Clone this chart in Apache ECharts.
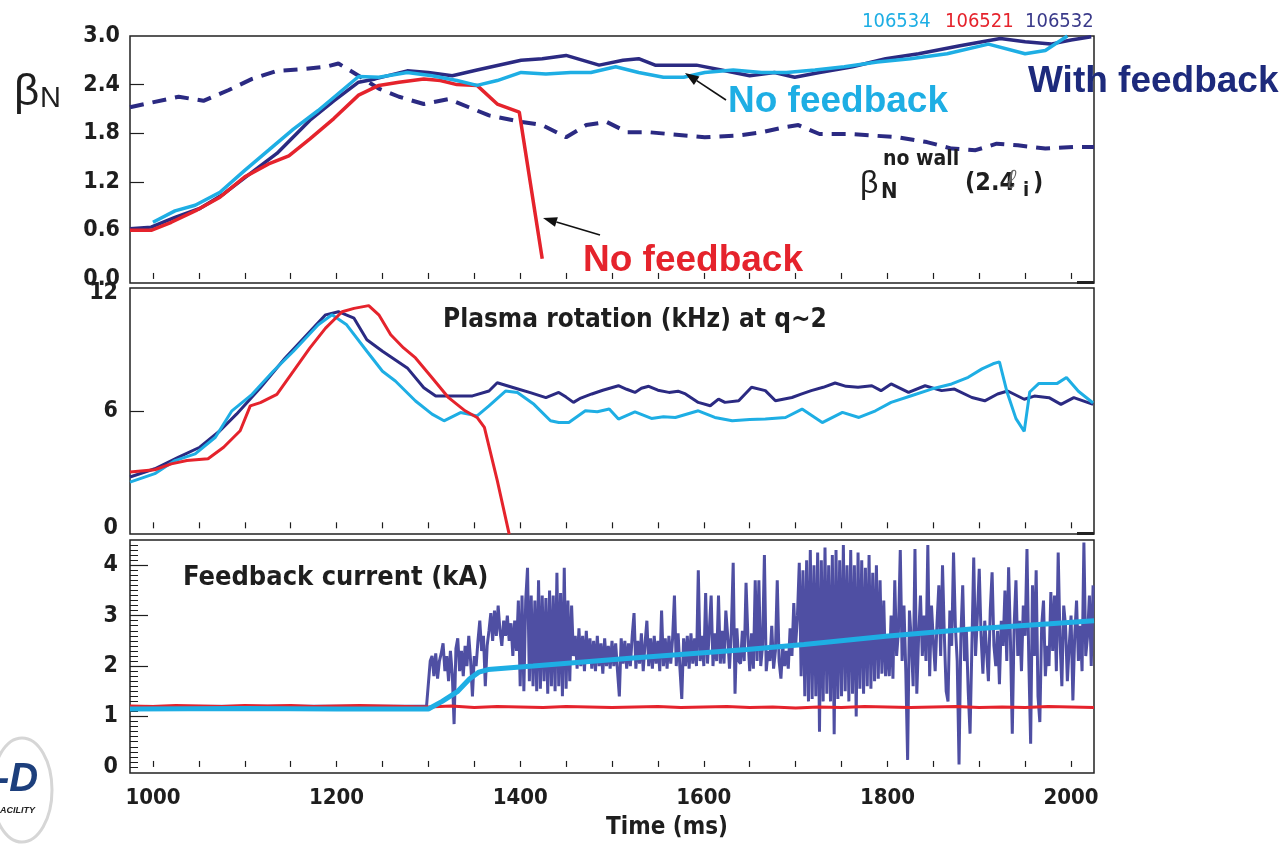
<!DOCTYPE html>
<html>
<head>
<meta charset="utf-8">
<script src="https://cdn.jsdelivr.net/npm/echarts@6.0.0/dist/echarts.min.js"></script>
<style>
  html, body { margin: 0; padding: 0; background: #fff; }
  #main { width: 1286px; height: 845px; }
</style>
</head>
<body>
<div id="main"></div>
<script>
// ---- data ----
// x axis (time, ms)
var timeLabels = [1000, 1200, 1400, 1600, 1800, 2000];
var timeTicks = [1000, 1050, 1100, 1150, 1200, 1250, 1300, 1350, 1400, 1450, 1500,
  1550, 1600, 1650, 1700, 1750, 1800, 1850, 1900, 1950, 2000];

// panel 1: beta_N
var bnNavyT = [975, 998, 1024, 1051, 1077, 1108, 1135, 1171, 1197, 1224, 1242, 1277, 1300, 1326, 1353, 1401, 1424, 1450, 1486, 1512,
  1529, 1547, 1592, 1619, 1650, 1677, 1699, 1726, 1762, 1798, 1834, 1879, 1923, 1950, 1978, 2000, 2022];
var bnNavyV = [0.62, 0.64, 0.76, 0.87, 1.05, 1.32, 1.55, 1.96, 2.20, 2.43, 2.47, 2.57, 2.55, 2.51, 2.58, 2.70, 2.72, 2.76, 2.64, 2.70,
  2.72, 2.64, 2.64, 2.58, 2.51, 2.55, 2.49, 2.55, 2.62, 2.72, 2.78, 2.88, 2.97, 2.93, 2.90, 2.95, 2.99];
var bnRedT = [975, 998, 1020, 1046, 1073, 1100, 1126, 1148, 1171, 1197, 1224, 1246, 1268, 1295, 1313, 1331, 1353, 1375, 1399, 1424];
var bnRedV = [0.60, 0.60, 0.70, 0.84, 1.01, 1.26, 1.42, 1.52, 1.73, 1.98, 2.27, 2.39, 2.43, 2.47, 2.45, 2.40, 2.39, 2.16, 2.06, 0.25];
var bnCyanT = [1000, 1024, 1046, 1073, 1100, 1126, 1153, 1180, 1224, 1246, 1277, 1304, 1331, 1353, 1375, 1401, 1428, 1455, 1477, 1504,
  1529, 1556, 1578, 1601, 1632, 1663, 1690, 1721, 1753, 1789, 1825, 1865, 1910, 1950, 1972, 1996];
var bnCyanV = [0.70, 0.84, 0.91, 1.07, 1.34, 1.59, 1.85, 2.08, 2.50, 2.49, 2.55, 2.51, 2.45, 2.39, 2.45, 2.55, 2.53, 2.55, 2.55, 2.62,
  2.55, 2.49, 2.49, 2.55, 2.58, 2.55, 2.55, 2.58, 2.62, 2.68, 2.72, 2.78, 2.90, 2.78, 2.82, 3.00];
var noWallT = [975, 1028, 1055, 1082, 1108, 1135, 1162, 1188, 1202, 1224, 1246, 1268, 1295, 1322, 1344, 1366, 1401, 1424, 1450, 1472,
  1494, 1517, 1542, 1601, 1637, 1663, 1686, 1703, 1726, 1758, 1785, 1811, 1843, 1870, 1896, 1919, 1942, 1972, 2004, 2025];
var noWallV = [2.12, 2.25, 2.20, 2.33, 2.47, 2.57, 2.59, 2.62, 2.66, 2.51, 2.35, 2.25, 2.16, 2.22, 2.12, 2.02, 1.94, 1.90, 1.75, 1.90,
  1.94, 1.81, 1.81, 1.75, 1.77, 1.81, 1.87, 1.90, 1.79, 1.79, 1.77, 1.75, 1.69, 1.61, 1.59, 1.67, 1.65, 1.61, 1.63, 1.63];

// panel 2: plasma rotation (kHz)
var rotRedT = [975, 1002, 1020, 1037, 1060, 1077, 1095, 1106, 1117, 1135, 1153, 1171, 1188, 1206, 1219, 1235, 1246, 1259, 1273, 1286,
  1304, 1322, 1340, 1353, 1361, 1375, 1388];
var rotRedV = [2.87, 2.99, 3.29, 3.46, 3.55, 4.14, 4.98, 6.25, 6.42, 6.84, 8.02, 9.21, 10.22, 11.06, 11.23, 11.37, 10.90, 9.88, 9.21, 8.70,
  7.69, 6.67, 6.00, 5.66, 5.15, 2.45, -0.30];
var rotNavyT = [975, 1002, 1028, 1051, 1073, 1091, 1117, 1144, 1171, 1188, 1202, 1219, 1233, 1250, 1277, 1295, 1308, 1326, 1348, 1366,
  1375, 1393, 1411, 1428, 1442, 1450, 1458, 1466, 1478, 1490, 1507, 1516, 1525, 1532, 1540, 1550, 1562, 1572, 1580, 1594,
  1607, 1616, 1623, 1638, 1652, 1667, 1678, 1696, 1706, 1717, 1730, 1743, 1755, 1768, 1783, 1793, 1804, 1823, 1841, 1859,
  1873, 1892, 1906, 1920, 1931, 1949, 1960, 1976, 1989, 2003, 2024];
var rotNavyV = [2.62, 3.04, 3.63, 4.14, 4.98, 5.83, 7.18, 8.70, 10.05, 10.90, 11.06, 10.73, 9.63, 9.04, 8.19, 7.18, 6.76, 6.76, 6.76, 7.01,
  7.43, 7.18, 6.93, 6.67, 6.94, 6.70, 6.43, 6.65, 6.86, 7.05, 7.28, 7.10, 6.94, 7.15, 7.25, 7.05, 6.94, 7.00, 6.86, 6.43,
  6.26, 6.60, 6.43, 6.51, 7.20, 7.03, 6.51, 6.68, 6.85, 7.03, 7.20, 7.42, 7.25, 7.20, 7.28, 7.03, 7.37, 6.94, 7.28, 7.03,
  7.11, 6.68, 6.51, 6.86, 7.01, 6.59, 6.75, 6.67, 6.33, 6.67, 6.33];
var rotCyanT = [975, 1002, 1024, 1046, 1068, 1086, 1108, 1131, 1153, 1180, 1195, 1211, 1233, 1250, 1264, 1286, 1304, 1317, 1335, 1353,
  1366, 1384, 1397, 1415, 1433, 1442, 1453, 1471, 1484, 1497, 1507, 1525, 1543, 1556, 1569, 1594, 1612, 1631, 1650, 1667,
  1689, 1707, 1729, 1751, 1769, 1787, 1804, 1826, 1848, 1870, 1888, 1903, 1915, 1922, 1930, 1940, 1949, 1955, 1965, 1985,
  1995, 2008, 2024];
var rotCyanV = [2.36, 2.79, 3.46, 3.80, 4.65, 6.00, 6.84, 8.02, 9.04, 10.39, 10.90, 10.39, 9.04, 8.02, 7.52, 6.50, 5.83, 5.49, 5.91, 5.74,
  6.25, 7.01, 6.93, 6.33, 5.49, 5.40, 5.40, 6.00, 5.95, 6.09, 5.58, 5.95, 5.61, 5.70, 5.66, 6.00, 5.66, 5.49, 5.55, 5.58,
  5.66, 6.09, 5.40, 5.92, 5.66, 6.00, 6.43, 6.77, 7.11, 7.37, 7.71, 8.14, 8.40, 8.50, 7.00, 5.60, 4.95, 6.96, 7.40, 7.40,
  7.70, 7.00, 6.40];

// panel 3: feedback current (kA)
var curCyanT = [975, 1100, 1200, 1300, 1315, 1332, 1345, 1355, 1365, 1414, 1523, 1647, 1709, 1798, 1888, 1977, 2025];
var curCyanV = [1.15, 1.16, 1.15, 1.15, 1.30, 1.50, 1.75, 1.88, 1.93, 2.00, 2.16, 2.33, 2.43, 2.59, 2.73, 2.84, 2.90];
var curRedStart = 975, curRedStep = 25;
var curRedV = [1.21, 1.20, 1.22, 1.21, 1.20, 1.22, 1.21, 1.22, 1.20, 1.21, 1.22, 1.21, 1.20, 1.19, 1.21, 1.18, 1.20, 1.19, 1.18, 1.20,
  1.19, 1.18, 1.19, 1.20, 1.18, 1.19, 1.20, 1.18, 1.19, 1.17, 1.19, 1.18, 1.20, 1.19, 1.18, 1.19, 1.20, 1.18, 1.19, 1.18,
  1.20, 1.19, 1.18];
var curNavyBaseT = [975, 1298];
var curNavyBaseV = [1.20, 1.21];
var curNavyStart = 1300, curNavyStep = 2;
var curNavyV = [
  1.22, 2.10, 2.20, 1.80, 2.25, 1.75, 2.10, 2.25, 2.45, 1.90,
  2.20, 1.70, 2.30, 1.85, 0.85, 2.35, 2.55, 1.90, 2.30, 1.80,
  2.40, 2.00, 2.60, 2.10, 1.40, 2.20, 2.00, 2.50, 2.90, 2.30,
  2.60, 1.60, 2.40, 2.70, 3.05, 2.50, 3.10, 2.60, 3.20, 2.70,
  2.40, 2.90, 2.60, 3.00, 2.50, 2.85, 2.20, 2.90, 2.30, 3.30,
  1.60, 3.40, 1.50, 3.30, 3.95, 1.70, 3.40, 1.60, 3.30, 1.50,
  3.70, 1.55, 3.40, 1.70, 3.35, 1.45, 3.50, 1.60, 3.40, 1.50,
  3.85, 1.60, 3.45, 1.40, 3.95, 1.55, 3.30, 1.70, 3.20, 2.20,
  2.60, 1.95, 2.75, 2.00, 2.60, 1.90, 2.70, 2.05, 2.55, 1.95,
  2.50, 1.90, 2.60, 2.00, 2.45, 1.85, 2.55, 2.00, 2.40, 1.95,
  2.50, 2.00, 2.45, 1.90, 1.40, 2.55, 2.05, 2.50, 1.95, 2.45,
  2.00, 2.60, 3.05, 1.95, 2.50, 2.05, 2.65, 1.90, 2.45, 2.90,
  2.00, 2.55, 1.95, 2.60, 2.05, 2.50, 1.90, 3.10, 2.00, 2.55,
  1.95, 2.60, 2.05, 2.55, 3.40, 2.00, 2.65, 1.95, 1.35, 2.55,
  2.00, 2.60, 1.95, 2.65, 2.05, 2.55, 2.00, 3.90, 2.10, 2.60,
  2.00, 3.45, 2.05, 2.70, 3.40, 2.00, 2.65, 2.10, 3.40, 2.05,
  2.70, 2.05, 3.10, 2.60, 1.95, 2.70, 4.05, 1.45, 2.75, 2.10,
  2.05, 2.70, 2.10, 3.65, 2.60, 1.90, 2.65, 1.95, 3.70, 2.10,
  3.70, 2.00, 2.40, 4.20, 1.90, 2.30, 2.10, 2.80, 1.95, 2.30,
  3.70, 2.10, 1.75, 2.40, 2.00, 2.30, 1.95, 2.75, 2.20, 3.25,
  2.40, 3.00, 4.05, 1.80, 3.90, 1.40, 4.10, 1.30, 4.30, 1.35,
  4.00, 1.40, 4.25, 0.70, 4.10, 1.30, 4.35, 1.45, 4.00, 1.30,
  4.20, 0.65, 4.30, 1.35, 4.10, 1.40, 4.40, 1.50, 4.00, 1.30,
  4.30, 1.45, 4.00, 1.00, 4.25, 1.55, 4.10, 1.45, 3.95, 1.60,
  4.20, 1.55, 3.85, 1.70, 4.00, 1.75, 3.70, 1.85, 3.30, 1.80,
  2.60, 1.80, 3.00, 1.75, 3.70, 2.20, 2.70, 4.30, 2.10, 3.20,
  1.90, 0.14, 3.10, 2.50, 1.60, 4.32, 1.45, 2.60, 3.40, 2.20,
  3.00, 2.10, 4.40, 1.80, 3.20, 2.50, 1.90, 2.85, 3.60, 2.20,
  4.00, 2.60, 1.50, 1.30, 3.10, 2.40, 4.25, 2.80, 2.10, 0.05,
  2.60, 3.60, 2.10, 2.70, 1.50, 0.66, 2.40, 4.15, 2.20, 3.00,
  3.93, 2.60, 1.85, 2.90, 2.30, 1.70, 3.10, 3.86, 2.40, 2.00,
  2.70, 1.64, 2.90, 2.40, 3.50, 2.10, 3.96, 2.50, 0.66, 2.80,
  3.70, 2.20, 2.90, 1.90, 3.20, 2.60, 4.32, 2.10, 0.46, 3.60,
  2.20, 3.90, 1.40, 0.89, 2.80, 3.30, 1.80, 2.40, 2.00, 3.47,
  2.30, 3.40, 1.90, 4.25, 2.50, 1.60, 3.20, 2.80, 1.70, 2.40,
  3.00, 1.32, 2.60, 3.30, 2.10, 2.80, 1.90, 4.45, 2.20, 2.60,
  3.40, 2.00, 3.60
];

// ---- build series data ----
function pairs(ts, vs) {
  return ts.map(function (t, i) { return [t, vs[i]]; });
}
function stepped(start, step, vs) {
  return vs.map(function (v, i) { return [start + i * step, v]; });
}

var cyan = '#1eaee4';
var red = '#e5232c';
var navy = '#2b2a82';
var navy2 = '#4f4fa3';
var ink = '#1e1e1e';
var cond = "'DejaVu Sans Condensed', 'Liberation Sans', sans-serif";
var wide = "'Liberation Sans', Arial, sans-serif";

var gridL = 130, gridR = 192;

function xAx(i, showLabel) {
  return {
    type: 'value', gridIndex: i, min: 975, max: 2025,
    axisLine: { show: false },
    splitLine: { show: false },
    axisTick: { inside: true, length: 6, customValues: timeTicks, lineStyle: { color: ink, width: 1.2 } },
    axisLabel: {
      show: showLabel, customValues: timeLabels, margin: 14,
      formatter: function (v) { return String(v); },
      fontFamily: cond, fontWeight: 'bold', fontSize: 22, color: ink
    }
  };
}

var curMinorTicks = [];
for (var k = 0; k <= 44; k++) curMinorTicks.push(k / 10);

var option = {
  backgroundColor: '#fff',
  animation: false,
  textStyle: { fontFamily: cond },
  grid: [
    { left: gridL, right: gridR, top: 36, height: 247, show: true, borderColor: '#222', borderWidth: 1.5, outerBoundsMode: 'none' },
    { left: gridL, right: gridR, top: 288, height: 246, show: true, borderColor: '#222', borderWidth: 1.5, outerBoundsMode: 'none' },
    { left: gridL, right: gridR, top: 540, height: 233, show: true, borderColor: '#222', borderWidth: 1.5, outerBoundsMode: 'none' }
  ],
  xAxis: [xAx(0, false), xAx(1, false), xAx(2, true)],
  yAxis: [
    {
      type: 'value', gridIndex: 0, min: -0.05, max: 3.0,
      axisLine: { show: false }, splitLine: { show: false },
      axisTick: { inside: true, length: 14, customValues: [0.6, 1.2, 1.8, 2.4], lineStyle: { color: ink, width: 1.2 } },
      axisLabel: {
        customValues: [0, 0.6, 1.2, 1.8, 2.4, 3.0], margin: 10,
        formatter: function (v) { return v.toFixed(1); },
        fontFamily: cond, fontWeight: 'bold', fontSize: 23, color: ink
      }
    },
    {
      type: 'value', gridIndex: 1, min: -0.29, max: 12.27,
      axisLine: { show: false }, splitLine: { show: false },
      axisTick: { inside: true, length: 14, customValues: [6], lineStyle: { color: ink, width: 1.2 } },
      axisLabel: {
        customValues: [0, 6, 12], margin: 12,
        fontFamily: cond, fontWeight: 'bold', fontSize: 23, color: ink
      }
    },
    {
      type: 'value', gridIndex: 2, min: -0.12, max: 4.5,
      axisLine: { show: false }, splitLine: { show: false },
      axisTick: { inside: true, length: 8, customValues: curMinorTicks, lineStyle: { color: ink, width: 1 } },
      axisLabel: {
        customValues: [0, 1, 2, 3, 4], margin: 12,
        fontFamily: cond, fontWeight: 'bold', fontSize: 23, color: ink
      }
    },
    {
      type: 'value', gridIndex: 2, position: 'left', min: -0.12, max: 4.5,
      axisLine: { show: false }, splitLine: { show: false },
      axisTick: { inside: true, length: 18, customValues: [1, 2, 3, 4], lineStyle: { color: ink, width: 1.2 } },
      axisLabel: { show: false }
    }
  ],
  series: [
    // beta_N
    { type: 'line', xAxisIndex: 0, yAxisIndex: 0, data: pairs(noWallT, noWallV), showSymbol: false,
      lineStyle: { color: navy, width: 4, type: [14, 9] } },
    { type: 'line', xAxisIndex: 0, yAxisIndex: 0, data: pairs(bnNavyT, bnNavyV), showSymbol: false,
      lineStyle: { color: navy, width: 3.5 } },
    { type: 'line', xAxisIndex: 0, yAxisIndex: 0, data: pairs(bnRedT, bnRedV), showSymbol: false,
      lineStyle: { color: red, width: 3.5 } },
    { type: 'line', xAxisIndex: 0, yAxisIndex: 0, data: pairs(bnCyanT, bnCyanV), showSymbol: false,
      lineStyle: { color: cyan, width: 3.5 } },
    // rotation
    { type: 'line', xAxisIndex: 1, yAxisIndex: 1, data: pairs(rotNavyT, rotNavyV), showSymbol: false,
      lineStyle: { color: navy, width: 3 } },
    { type: 'line', xAxisIndex: 1, yAxisIndex: 1, data: pairs(rotCyanT, rotCyanV), showSymbol: false,
      lineStyle: { color: cyan, width: 3 } },
    { type: 'line', xAxisIndex: 1, yAxisIndex: 1, data: pairs(rotRedT, rotRedV), showSymbol: false,
      lineStyle: { color: red, width: 3 } },
    // feedback current
    { type: 'line', xAxisIndex: 2, yAxisIndex: 2, showSymbol: false,
      data: pairs(curNavyBaseT, curNavyBaseV).concat(stepped(curNavyStart, curNavyStep, curNavyV)),
      lineStyle: { color: navy2, width: 3 } },
    { type: 'line', xAxisIndex: 2, yAxisIndex: 2, data: stepped(curRedStart, curRedStep, curRedV), showSymbol: false,
      lineStyle: { color: red, width: 3 } },
    { type: 'line', xAxisIndex: 2, yAxisIndex: 2, data: pairs(curCyanT, curCyanV), showSymbol: false,
      lineStyle: { color: cyan, width: 5 } }
  ]
};

// ---- annotations ----
function txt(x, y, s, font, color, align) {
  return {
    type: 'text', x: x, y: y, z: 100,
    style: { text: s, font: font, fill: color, align: align || 'left', verticalAlign: 'middle' }
  };
}
function arrow(x1, y1, x2, y2) {
  var dx = x2 - x1, dy = y2 - y1, len = Math.sqrt(dx * dx + dy * dy);
  var ux = dx / len, uy = dy / len, px = -uy, py = ux;
  var bx = x2 - ux * 14, by = y2 - uy * 14;
  return [
    { type: 'line', z: 100, shape: { x1: x1, y1: y1, x2: bx, y2: by }, style: { stroke: '#111', lineWidth: 1.6 } },
    { type: 'polygon', z: 100, shape: { points: [[x2, y2], [bx + px * 5, by + py * 5], [bx - px * 5, by - py * 5]] },
      style: { fill: '#111' } }
  ];
}

var g = [
  txt(862, 22, '106534', 'normal 20px ' + cond, cyan),
  txt(945, 22, '106521', 'normal 20px ' + cond, red),
  txt(1025, 22, '106532', 'normal 20px ' + cond, '#3a3a8a'),
  txt(1028, 82, 'With feedback', 'bold 37px ' + wide, '#1d2a7c'),
  txt(728, 102, 'No feedback', 'bold 37px ' + wide, cyan),
  txt(583, 261, 'No feedback', 'bold 37px ' + wide, red),
  txt(443, 320, 'Plasma rotation (kHz) at q~2', 'bold 26px ' + cond, ink),
  txt(183, 578, 'Feedback current (kA)', 'bold 27px ' + cond, ink),
  txt(667, 828, 'Time (ms)', 'bold 24px ' + cond, ink, 'center'),
  txt(14, 93, '\u03b2', 'normal 44px ' + wide, ink),
  txt(40, 99, 'N', 'normal 29px ' + wide, ink),
  txt(860, 184, '\u03b2', 'normal 32px ' + wide, ink),
  txt(881, 192, 'N', 'bold 22px ' + cond, ink),
  txt(883, 160, 'no wall', 'bold 21px ' + cond, ink),
  txt(965, 183, '(2.4', 'bold 25px ' + cond, ink),
  txt(1007, 181, '\u2113', 'italic 26px ' + wide, '#666'),
  txt(1023, 191, 'i', 'bold 20px ' + cond, ink),
  txt(1033, 183, ')', 'bold 25px ' + cond, ink),
  // little dark bars at the right end of the panel bottoms
  { type: 'rect', z: 100, shape: { x: 1077, y: 281, width: 17, height: 3 }, style: { fill: '#222' } },
  { type: 'rect', z: 100, shape: { x: 1077, y: 532, width: 17, height: 3 }, style: { fill: '#222' } },
  // logo, cut by the left edge
  { type: 'ellipse', z: 90, shape: { cx: 22, cy: 790, rx: 30, ry: 52 }, style: { fill: 'none', stroke: '#d6d6d6', lineWidth: 3 } },
  txt(-4, 780, '-D', 'italic bold 40px ' + wide, '#1d3f7c'),
  txt(0, 811, 'ACILITY', 'italic bold 9px ' + wide, '#222')
];
g = g.concat(arrow(726, 100, 685, 73), arrow(600, 235, 543, 218));
option.graphic = { elements: g };

var chart = echarts.init(document.getElementById('main'));
chart.setOption(option);
</script>
</body>
</html>
